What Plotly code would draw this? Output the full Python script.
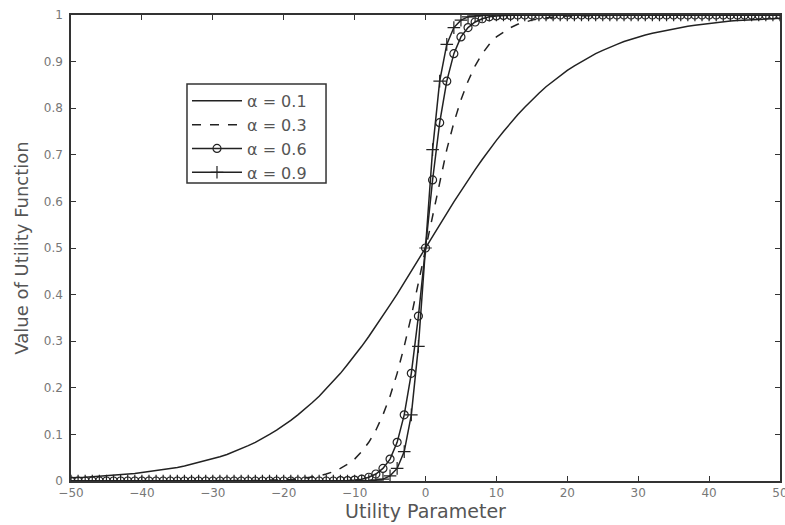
import plotly.graph_objects as go

x = list(range(-50, 51))

# alpha = 0.1 (x = -50 .. 50)
y01 = [0.007, 0.007, 0.008, 0.009, 0.010, 0.011, 0.012, 0.013, 0.015, 0.016,
       0.018, 0.020, 0.022, 0.024, 0.027, 0.029, 0.032, 0.036, 0.039, 0.043,
       0.047, 0.052, 0.057, 0.063, 0.069, 0.076, 0.083, 0.091, 0.100, 0.109,
       0.119, 0.130, 0.142, 0.154, 0.168, 0.182, 0.198, 0.214, 0.231, 0.250,
       0.269, 0.289, 0.310, 0.332, 0.354, 0.378, 0.401, 0.426, 0.450, 0.475,
       0.500,
       0.525, 0.550, 0.574, 0.599, 0.622, 0.646, 0.668, 0.690, 0.711, 0.731,
       0.750, 0.769, 0.786, 0.802, 0.818, 0.832, 0.846, 0.858, 0.870, 0.881,
       0.891, 0.900, 0.909, 0.917, 0.924, 0.931, 0.937, 0.943, 0.948, 0.953,
       0.957, 0.961, 0.964, 0.968, 0.971, 0.973, 0.976, 0.978, 0.980, 0.982,
       0.984, 0.985, 0.987, 0.988, 0.989, 0.990, 0.991, 0.992, 0.993, 0.993]

# alpha = 0.3
y03 = [0.000, 0.000, 0.000, 0.000, 0.000, 0.000, 0.000, 0.000, 0.000, 0.000,
       0.000, 0.000, 0.000, 0.000, 0.000, 0.000, 0.000, 0.000, 0.000, 0.000,
       0.000, 0.000, 0.000, 0.001, 0.001, 0.001, 0.001, 0.001, 0.002, 0.002,
       0.002, 0.003, 0.004, 0.006, 0.008, 0.011, 0.015, 0.020, 0.027, 0.036,
       0.047, 0.063, 0.083, 0.109, 0.142, 0.182, 0.231, 0.289, 0.354, 0.426,
       0.500,
       0.574, 0.646, 0.711, 0.769, 0.818, 0.858, 0.891, 0.917, 0.937, 0.953,
       0.964, 0.973, 0.980, 0.985, 0.989, 0.992, 0.994, 0.996, 0.997, 0.998,
       0.998, 0.999, 0.999, 0.999, 0.999, 0.999, 1.000, 1.000, 1.000, 1.000,
       1.000, 1.000, 1.000, 1.000, 1.000, 1.000, 1.000, 1.000, 1.000, 1.000,
       1.000, 1.000, 1.000, 1.000, 1.000, 1.000, 1.000, 1.000, 1.000, 1.000]

# alpha = 0.6
y06 = [0.000, 0.000, 0.000, 0.000, 0.000, 0.000, 0.000, 0.000, 0.000, 0.000,
       0.000, 0.000, 0.000, 0.000, 0.000, 0.000, 0.000, 0.000, 0.000, 0.000,
       0.000, 0.000, 0.000, 0.000, 0.000, 0.000, 0.000, 0.000, 0.000, 0.000,
       0.000, 0.000, 0.000, 0.000, 0.000, 0.000, 0.000, 0.000, 0.001, 0.001,
       0.002, 0.004, 0.008, 0.015, 0.027, 0.047, 0.083, 0.142, 0.231, 0.354,
       0.500,
       0.646, 0.769, 0.858, 0.917, 0.953, 0.973, 0.985, 0.992, 0.996, 0.998,
       0.999, 0.999, 1.000, 1.000, 1.000, 1.000, 1.000, 1.000, 1.000, 1.000,
       1.000, 1.000, 1.000, 1.000, 1.000, 1.000, 1.000, 1.000, 1.000, 1.000,
       1.000, 1.000, 1.000, 1.000, 1.000, 1.000, 1.000, 1.000, 1.000, 1.000,
       1.000, 1.000, 1.000, 1.000, 1.000, 1.000, 1.000, 1.000, 1.000, 1.000]

# alpha = 0.9
y09 = [0.000, 0.000, 0.000, 0.000, 0.000, 0.000, 0.000, 0.000, 0.000, 0.000,
       0.000, 0.000, 0.000, 0.000, 0.000, 0.000, 0.000, 0.000, 0.000, 0.000,
       0.000, 0.000, 0.000, 0.000, 0.000, 0.000, 0.000, 0.000, 0.000, 0.000,
       0.000, 0.000, 0.000, 0.000, 0.000, 0.000, 0.000, 0.000, 0.000, 0.000,
       0.000, 0.000, 0.001, 0.002, 0.004, 0.011, 0.027, 0.063, 0.142, 0.289,
       0.500,
       0.711, 0.858, 0.937, 0.973, 0.989, 0.996, 0.998, 0.999, 1.000, 1.000,
       1.000, 1.000, 1.000, 1.000, 1.000, 1.000, 1.000, 1.000, 1.000, 1.000,
       1.000, 1.000, 1.000, 1.000, 1.000, 1.000, 1.000, 1.000, 1.000, 1.000,
       1.000, 1.000, 1.000, 1.000, 1.000, 1.000, 1.000, 1.000, 1.000, 1.000,
       1.000, 1.000, 1.000, 1.000, 1.000, 1.000, 1.000, 1.000, 1.000, 1.000]

names = ["α = 0.1", "α = 0.3", "α = 0.6", "α = 0.9"]

FONT = "DejaVu Sans, Liberation Sans, sans-serif"
ink = "#222222"
fig = go.Figure()
fig.add_trace(go.Scatter(x=x, y=y01, mode="lines", name=names[0],
                         line=dict(color=ink, width=1.5)))
fig.add_trace(go.Scatter(x=x, y=y03, mode="lines", name=names[1],
                         line=dict(color=ink, width=1.5, dash="dash")))
fig.add_trace(go.Scatter(x=x, y=y06, mode="lines+markers", name=names[2],
                         line=dict(color=ink, width=1.5),
                         marker=dict(symbol="circle-open", size=8,
                                     color=ink, line=dict(width=1.2, color=ink))))
fig.add_trace(go.Scatter(x=x, y=y09, mode="lines+markers", name=names[3],
                         line=dict(color=ink, width=1.5),
                         marker=dict(symbol="cross-thin-open", size=9,
                                     color=ink, line=dict(width=1.2, color=ink))))

axis_common = dict(showgrid=False, zeroline=False, showline=True,
                   linecolor="#333333", linewidth=1.5, mirror="ticks",
                   ticks="inside", ticklen=5, tickcolor="#333333",
                   automargin=False, ticklabeloverflow="allow",
                   tickfont=dict(family=FONT, size=12, color="#777777"))

fig.update_xaxes(range=[-50, 50], tickmode="linear", tick0=-50, dtick=10,
                 ticklabelstandoff=0,
                 title=dict(text="Utility Parameter", standoff=3,
                            font=dict(family=FONT, size=19, color="#555555")),
                 **axis_common)
fig.update_yaxes(range=[0, 1], tickmode="linear", tick0=0, dtick=0.1,
                 tickformat="~g", ticklabelstandoff=4,
                 title=dict(text="Value of Utility Function", standoff=10,
                            font=dict(family=FONT, size=18, color="#555555")),
                 **axis_common)

# legend frame (paper coordinates)
fig.add_shape(type="rect", xref="paper", yref="paper",
              x0=0.1636, x1=0.3597, y0=0.6395, y1=0.852,
              line=dict(color="#333333", width=1.5), fillcolor="white",
              layer="above")

fig.update_layout(
    width=785, height=525,
    margin=dict(l=71, r=5, t=15, b=44),
    paper_bgcolor="white", plot_bgcolor="white",
    font=dict(family=FONT, color="#555555"),
    legend=dict(x=0.1636, y=0.852, xanchor="left", yanchor="top",
                bgcolor="rgba(0,0,0,0)", borderwidth=0,
                font=dict(family=FONT, size=16, color="#555555"),
                tracegroupgap=0, itemwidth=50),
    showlegend=True,
)

fig.write_html("out.html", config={"displayModeBar": False},
               post_script="document.body.style.margin='0px';")
